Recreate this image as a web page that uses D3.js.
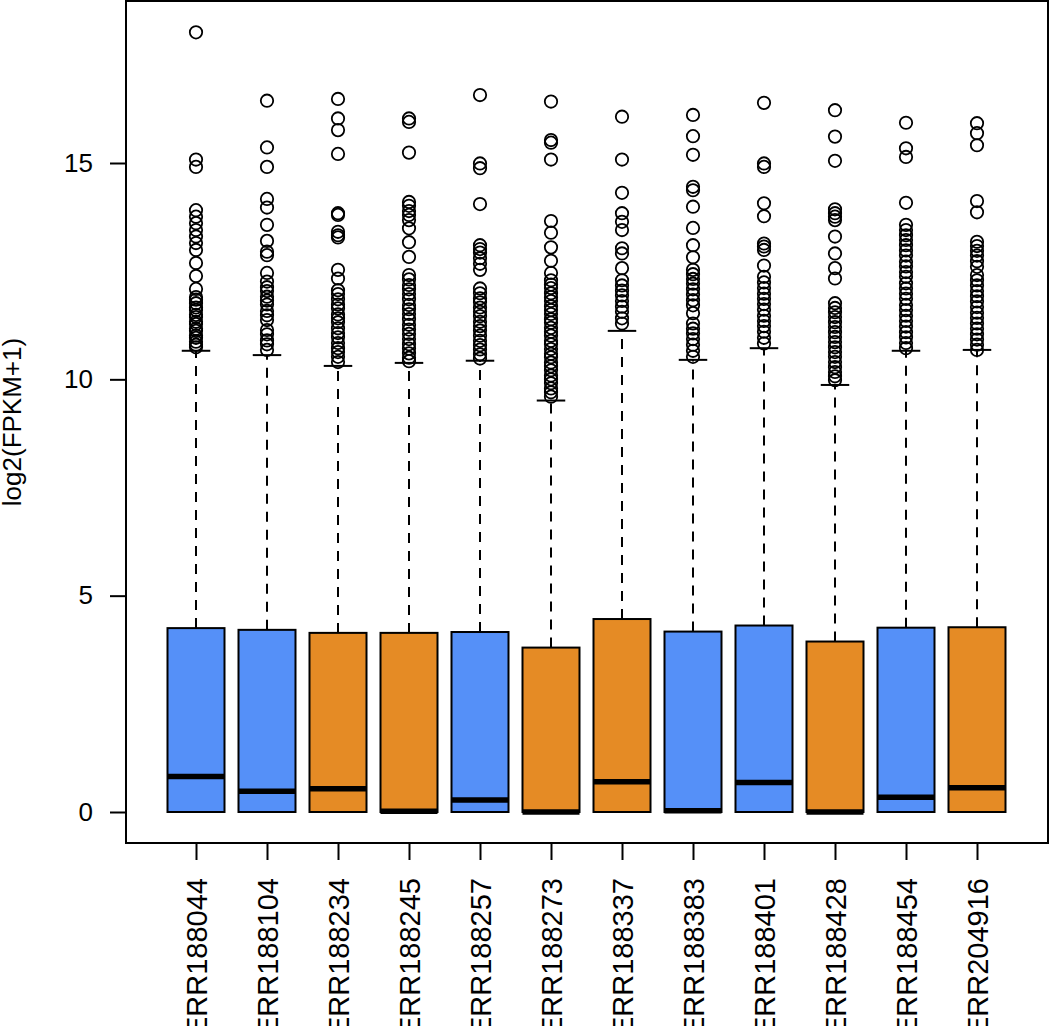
<!DOCTYPE html>
<html>
<head>
<meta charset="utf-8">
<style>
  body { margin: 0; background: #fff; }
  text { font-family: "Liberation Sans", Arial, sans-serif; fill: #000; }
</style>
</head>
<body>
<script src="https://cdn.jsdelivr.net/npm/d3@7"></script>
<script>
// sample names and group (blue / orange)
var samples = ["ERR188044","ERR188104","ERR188234","ERR188245","ERR188257","ERR188273",
               "ERR188337","ERR188383","ERR188401","ERR188428","ERR188454","ERR204916"];
var groups = ["b","b","o","o","b","o","o","b","b","o","b","o"];

var lowerQ  = [0,0,0,0,0,0,0,0,0,0,0,0];
var medians = [0.82,0.48,0.54,0.02,0.28,0.0,0.70,0.03,0.68,0.0,0.34,0.56];
var upperQ  = [4.25,4.21,4.14,4.14,4.16,3.80,4.46,4.17,4.31,3.94,4.26,4.27];
var whiskHi = [10.66,10.56,10.31,10.38,10.43,9.51,11.12,10.45,10.72,9.87,10.66,10.68];

var out1  = [18.02,15.08,14.91,13.91,13.76,13.61,13.45,13.30,13.15,12.99,12.69,12.39,12.09,11.90,11.84,11.76,11.66,11.60,11.49,11.44,11.33,11.28,11.17,11.12,11.01,10.96,10.87,10.80,10.74];
var out2  = [16.44,15.36,14.91,14.17,13.97,13.57,13.20,12.95,12.87,12.46,12.26,12.13,12.04,11.91,11.82,11.73,11.58,11.48,11.37,11.14,11.04,10.90,10.81,10.68];
var out3  = [16.48,16.03,15.76,15.21,13.84,13.80,13.41,13.33,13.28,12.53,12.33,12.06,11.97,11.85,11.73,11.64,11.50,11.41,11.32,11.18,11.07,10.97,10.84,10.72,10.63,10.52,10.40];
var out4  = [16.03,15.95,15.24,14.10,14.01,13.89,13.80,13.68,13.49,13.17,12.83,12.41,12.31,12.18,12.08,11.97,11.85,11.72,11.62,11.51,11.39,11.26,11.15,11.05,10.93,10.81,10.71,10.60,10.50,10.42];
var out5  = [16.57,14.99,14.88,14.05,13.10,13.01,12.93,12.80,12.67,12.53,12.10,11.99,11.87,11.78,11.66,11.56,11.46,11.33,11.23,11.13,11.01,10.89,10.79,10.69,10.58,10.48];
var out6  = [16.42,15.53,15.47,15.08,13.66,13.39,13.05,12.74,12.46,12.29,12.19,12.11,11.99,11.90,11.81,11.69,11.60,11.51,11.39,11.31,11.19,11.10,11.01,10.89,10.81,10.70,10.59,10.51,10.39,10.30,10.21,10.09,10.00,9.91,9.79,9.70,9.60];
var out7  = [16.07,15.08,14.31,13.84,13.64,13.45,13.03,12.91,12.57,12.29,12.17,12.05,11.94,11.81,11.68,11.56,11.41,11.29];
var out8  = [16.11,15.62,15.19,14.45,14.37,13.99,13.50,13.10,12.82,12.53,12.43,12.32,12.21,12.08,11.96,11.83,11.71,11.53,11.29,11.17,11.06,10.93,10.80,10.66,10.52];
var out9  = [16.39,14.99,14.91,14.07,13.77,13.14,13.07,12.99,12.63,12.37,12.24,12.11,11.98,11.86,11.74,11.61,11.47,11.35,11.23,11.10,10.96,10.83];
var out10 = [16.22,15.61,15.05,13.93,13.84,13.76,13.68,13.30,12.91,12.57,12.33,11.76,11.65,11.55,11.44,11.32,11.21,11.09,10.98,10.86,10.74,10.63,10.52,10.40,10.28,10.17,10.07,9.98];
var out11 = [15.93,15.34,15.14,14.08,13.57,13.45,13.33,13.22,13.10,12.98,12.86,12.72,12.61,12.48,12.37,12.22,12.10,11.98,11.86,11.72,11.60,11.47,11.35,11.22,11.09,10.97,10.84,10.72];
var out12 = [15.92,15.69,15.41,14.12,13.86,13.18,13.08,12.97,12.86,12.73,12.60,12.41,12.29,12.17,12.04,11.92,11.80,11.67,11.54,11.42,11.29,11.17,11.04,10.92,10.80,10.68];
var outliers = [out1,out2,out3,out4,out5,out6,out7,out8,out9,out10,out11,out12];

var yTicks = [0, 5, 10, 15];
var colors = {b: "#5590f8", o: "#e58b25"};

var W = 1050, H = 1026;
var plotLeft = 126, plotRight = 1048, plotTop = 1, plotBottom = 843;
var boxW = 57;

var svg = d3.select("body").append("svg").attr("width", W).attr("height", H);

var x = d3.scalePoint().domain(samples).range([196, 977]);
var y = d3.scaleLinear().domain([0, 15]).range([812, 163]);

var data = samples.map(function(s, i){
	return {name: s, g: groups[i], q1: lowerQ[i], med: medians[i], q3: upperQ[i], hi: whiskHi[i], out: outliers[i]};
});

var g = svg.selectAll("g.box").data(data).enter().append("g").attr("class", "box");

// upper whisker (dashed)
g.append("line")
	.attr("x1", function(d){ return x(d.name); })
	.attr("x2", function(d){ return x(d.name); })
	.attr("y1", function(d){ return y(d.q3); })
	.attr("y2", function(d){ return y(d.hi); })
	.style("stroke", "#000").style("stroke-width", 2).style("stroke-dasharray", "10,8");

// staple
g.append("line")
	.attr("x1", function(d){ return x(d.name) - boxW/4; })
	.attr("x2", function(d){ return x(d.name) + boxW/4; })
	.attr("y1", function(d){ return y(d.hi); })
	.attr("y2", function(d){ return y(d.hi); })
	.style("stroke", "#000").style("stroke-width", 2);

// box
g.append("rect")
	.attr("x", function(d){ return x(d.name) - boxW/2; })
	.attr("y", function(d){ return y(d.q3); })
	.attr("width", boxW)
	.attr("height", function(d){ return y(d.q1) - y(d.q3); })
	.attr("fill", function(d){ return colors[d.g]; })
	.style("stroke", "#000").style("stroke-width", 2);

// median
g.append("line")
	.attr("x1", function(d){ return x(d.name) - boxW/2; })
	.attr("x2", function(d){ return x(d.name) + boxW/2; })
	.attr("y1", function(d){ return y(d.med); })
	.attr("y2", function(d){ return y(d.med); })
	.style("stroke", "#000").style("stroke-width", 5.5);

// outliers
g.each(function(d){
	d3.select(this).selectAll("circle").data(d.out).enter().append("circle")
		.attr("cx", x(d.name))
		.attr("cy", function(v){ return y(v); })
		.attr("r", 6.2)
		.attr("fill", "none")
		.style("stroke", "#000").style("stroke-width", 1.8);
});

// plot frame
svg.append("rect")
	.attr("x", plotLeft).attr("y", plotTop)
	.attr("width", plotRight - plotLeft).attr("height", plotBottom - plotTop)
	.attr("fill", "none").style("stroke", "#000").style("stroke-width", 2);

// y axis
var yAxis = svg.append("g").attr("transform", "translate(" + plotLeft + ",0)")
	.call(d3.axisLeft(y).tickValues(yTicks).tickSize(16).tickPadding(17).tickFormat(d3.format("d")));
yAxis.select(".domain").remove();
yAxis.selectAll(".tick line").style("stroke", "#000").style("stroke-width", 2);
yAxis.selectAll(".tick text").style("font-size", "26px").style("font-family", "Liberation Sans, Arial, sans-serif");

// x axis
var xAxis = svg.append("g").attr("transform", "translate(0," + plotBottom + ")")
	.call(d3.axisBottom(x).tickSize(17));
xAxis.select(".domain").remove();
xAxis.selectAll(".tick line").style("stroke", "#000").style("stroke-width", 2);
xAxis.selectAll(".tick text")
	.attr("transform", "rotate(-90)")
	.attr("x", -35).attr("y", 0).attr("dy", "0.36em")
	.style("text-anchor", "end")
	.style("font-size", "29px")
	.style("font-family", "Liberation Sans, Arial, sans-serif");

// y label
svg.append("text")
	.attr("transform", "translate(21," + ((plotTop + plotBottom) / 2) + ") rotate(-90)")
	.attr("text-anchor", "middle")
	.style("font-size", "26px")
	.text("log2(FPKM+1)");
</script>
</body>
</html>
